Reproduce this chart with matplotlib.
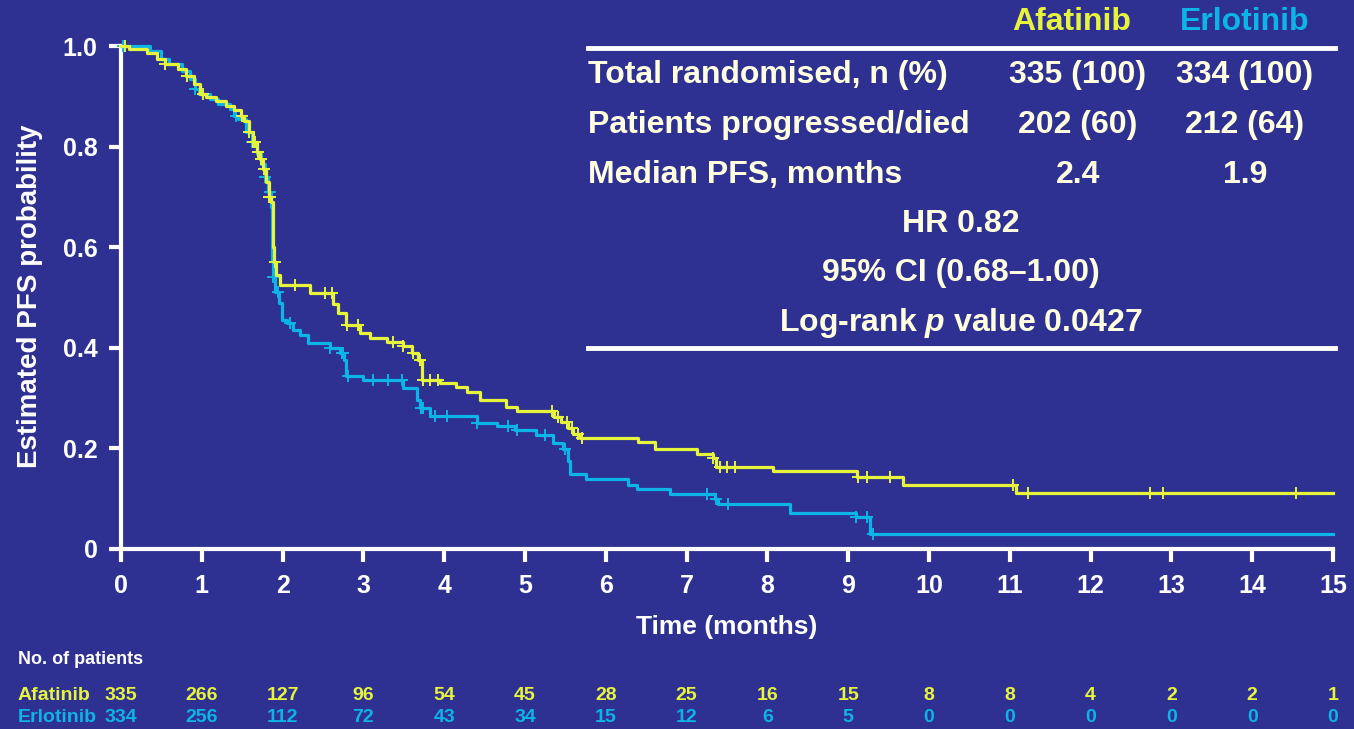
import numpy as np
import matplotlib
matplotlib.use("Agg")
import matplotlib.pyplot as plt
import matplotlib.transforms as mtransforms

# Kaplan-Meier PFS, afatinib vs erlotinib
bg = "#2E3192"
col_afa = "#E6F53C"
col_erl = "#0DB4E6"
cream = "#FFFFE0"

plt.rcParams["font.family"] = ["Liberation Sans", "DejaVu Sans"]
plt.rcParams["font.weight"] = "bold"
plt.rcParams["mathtext.fontset"] = "custom"
plt.rcParams["mathtext.it"] = "Liberation Sans:italic:bold"
plt.rcParams["mathtext.rm"] = "Liberation Sans:bold"

# step change points (months) and PFS after each step
afa_t = [0, 0.10, 0.32, 0.45, 0.55, 0.70, 0.80, 0.90, 0.98, 1.05, 1.18, 1.30, 1.40,
         1.48, 1.52, 1.58, 1.63, 1.68, 1.72, 1.76, 1.80, 1.83, 1.86, 1.875, 1.89,
         1.92, 1.97, 2.34, 2.62, 2.69, 2.78, 2.96, 3.08, 3.29, 3.49, 3.60, 3.68,
         3.72, 3.95, 4.15, 4.28, 4.44, 4.77, 4.90, 5.36, 5.45, 5.53, 5.60, 5.68,
         6.40, 6.61, 7.13, 7.33, 7.37, 8.07, 9.11, 9.68, 11.08]
afa_s = [1.0, 0.995, 0.987, 0.975, 0.965, 0.955, 0.940, 0.925, 0.905, 0.898, 0.890,
         0.880, 0.872, 0.860, 0.850, 0.830, 0.810, 0.790, 0.775, 0.755, 0.730, 0.700,
         0.690, 0.600, 0.570, 0.545, 0.525, 0.508, 0.488, 0.469, 0.445, 0.429, 0.420,
         0.412, 0.404, 0.390, 0.375, 0.336, 0.330, 0.323, 0.313, 0.296, 0.283, 0.274,
         0.262, 0.252, 0.240, 0.228, 0.220, 0.213, 0.199, 0.189, 0.180, 0.163, 0.156,
         0.144, 0.128, 0.112]
afa_cens = [0.05, 0.55, 0.82, 1.02, 1.50, 1.58, 1.63, 1.66, 1.70, 1.73, 1.77, 1.83,
            1.85, 1.90, 2.15, 2.52, 2.61, 2.80, 2.93, 3.37, 3.49, 3.61, 3.70, 3.74,
            3.82, 3.92, 5.33, 5.41, 5.52, 5.58, 5.66, 5.71, 7.33, 7.41, 7.50, 7.60,
            9.12, 9.23, 9.52, 11.04, 11.23, 12.74, 12.90, 14.54]

erl_t = [0, 0.36, 0.50, 0.60, 0.75, 0.85, 0.92, 0.97, 1.10, 1.20, 1.35, 1.40, 1.45,
         1.55, 1.62, 1.68, 1.73, 1.78, 1.82, 1.86, 1.87, 1.88, 1.90, 1.95, 1.99,
         2.05, 2.13, 2.22, 2.31, 2.59, 2.71, 2.76, 2.79, 3.00, 3.49, 3.66, 3.70,
         3.82, 4.40, 4.65, 4.88, 5.14, 5.35, 5.47, 5.53, 5.56, 5.76, 6.28, 6.38,
         6.79, 7.35, 7.39, 8.28, 9.10, 9.27]
erl_s = [1.0, 0.990, 0.975, 0.965, 0.950, 0.935, 0.915, 0.905, 0.895, 0.885, 0.875,
         0.860, 0.855, 0.830, 0.810, 0.785, 0.765, 0.740, 0.710, 0.680, 0.575, 0.540,
         0.510, 0.490, 0.455, 0.450, 0.435, 0.425, 0.410, 0.400, 0.390, 0.375, 0.343,
         0.336, 0.321, 0.296, 0.280, 0.265, 0.250, 0.245, 0.237, 0.226, 0.210, 0.198,
         0.175, 0.150, 0.139, 0.127, 0.119, 0.109, 0.100, 0.089, 0.072, 0.063, 0.030]
erl_cens = [0.02, 0.92, 1.42, 1.62, 1.78, 1.84, 1.88, 1.94, 2.09, 2.59, 2.73, 2.75,
            2.81, 3.12, 3.30, 3.48, 3.71, 3.74, 3.89, 4.03, 4.40, 4.79, 4.90, 5.25,
            5.50, 7.25, 7.37, 7.51, 9.10, 9.23, 9.31]

months = list(range(0, 16))
afa_risk = [335, 266, 127, 96, 54, 45, 28, 25, 16, 15, 8, 8, 4, 2, 2, 1]
erl_risk = [334, 256, 112, 72, 43, 34, 15, 12, 6, 5, 0, 0, 0, 0, 0, 0]

y_ticks = [0, 0.2, 0.4, 0.6, 0.8, 1.0]
y_ticklabels = ["0", "0.2", "0.4", "0.6", "0.8", "1.0"]

t_end = 15

W, H = 1354, 729
fig = plt.figure(figsize=(W / 100, H / 100), dpi=100, facecolor=bg)
ax = fig.add_axes([121 / W, 1 - 549 / H, 1212 / W, 503 / H])
ax.set_facecolor(bg)


def step_value(tt, ss, x):
    i = np.searchsorted(tt, x, side="right") - 1
    return np.asarray(ss)[i]


def draw_curve(tt, ss, cens, color):
    xs = list(tt) + [t_end]
    ys = list(ss) + [ss[-1]]
    ax.step(xs, ys, where="post", color=color, lw=2.3, clip_on=False, zorder=3)
    cy = step_value(tt, ss, np.array(cens))
    ax.plot(cens, cy, ls="none", marker="+", ms=9, mew=1.4, color=color,
            clip_on=False, zorder=3)


draw_curve(erl_t, erl_s, erl_cens, col_erl)
draw_curve(afa_t, afa_s, afa_cens, col_afa)

ax.set_xlim(0, 15)
ax.set_ylim(0, 1)
ax.set_xticks(months)
ax.set_yticks(y_ticks)
ax.set_yticklabels(y_ticklabels)
for s in ["top", "right"]:
    ax.spines[s].set_visible(False)
for s in ["left", "bottom"]:
    ax.spines[s].set_color("white")
    ax.spines[s].set_linewidth(3)
ax.tick_params(colors="white", width=3, length=9, labelsize=18)
ax.tick_params(axis="y", pad=8)
ax.tick_params(axis="x", pad=9)
for lab in ax.get_xticklabels() + ax.get_yticklabels():
    lab.set_fontweight("bold")

fig.text(727 / W, 1 - 627 / H, "Time (months)", color="white", fontsize=19,
         ha="center", va="center")
fig.text(30 / W, 1 - 296 / H, "Estimated PFS probability", color="white",
         fontsize=20, ha="center", va="center", rotation=90)


# summary table
def fx(px):
    return px / W


def fy(py):
    return 1 - py / H


fs = 23
fig.text(fx(1072), fy(22), "Afatinib", color=col_afa, fontsize=fs, ha="center", va="center")
fig.text(fx(1245), fy(22), "Erlotinib", color=col_erl, fontsize=fs, ha="center", va="center")
fig.add_artist(plt.Line2D([fx(588), fx(1335)], [fy(48), fy(48)], color="white", lw=3.5))
fig.add_artist(plt.Line2D([fx(588), fx(1335)], [fy(348), fy(348)], color="white", lw=3.5))

rows = [("Total randomised, n (%)", "335 (100)", "334 (100)", 75),
        ("Patients progressed/died", "202 (60)", "212 (64)", 125),
        ("Median PFS, months", "2.4", "1.9", 175)]
for label, a, e, py in rows:
    fig.text(fx(588), fy(py), label, color=cream, fontsize=fs, ha="left", va="center")
    fig.text(fx(1078), fy(py), a, color=cream, fontsize=fs, ha="center", va="center")
    fig.text(fx(1245), fy(py), e, color=cream, fontsize=fs, ha="center", va="center")

fig.text(fx(961), fy(224), "HR 0.82", color=cream, fontsize=fs, ha="center", va="center")
fig.text(fx(961), fy(273), "95% CI (0.68\u20131.00)", color=cream, fontsize=fs,
         ha="center", va="center")
fig.text(fx(961), fy(323), r"Log-rank $p$ value 0.0427", color=cream,
         fontsize=fs, ha="center", va="center")

# number at risk
fig.text(fx(18), fy(660), "No. of patients", color="white", fontsize=13, ha="left", va="center")
tr = mtransforms.blended_transform_factory(ax.transData, fig.transFigure)
fig.text(fx(18), fy(695), "Afatinib", color=col_afa, fontsize=14, ha="left", va="center")
fig.text(fx(18), fy(718), "Erlotinib", color=col_erl, fontsize=14, ha="left", va="center")
for m, a, e in zip(months, afa_risk, erl_risk):
    ax.text(m, fy(695), str(a), color=col_afa, fontsize=14, ha="center", va="center",
            transform=tr)
    ax.text(m, fy(718), str(e), color=col_erl, fontsize=14, ha="center", va="center",
            transform=tr)

fig.savefig("out.png", dpi=100, facecolor=bg)
